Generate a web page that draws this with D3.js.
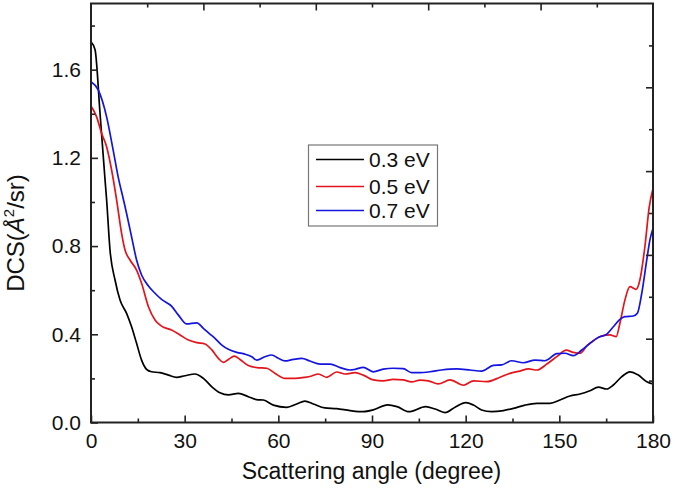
<!DOCTYPE html>
<html>
<head>
<meta charset="utf-8">
<script src="https://cdn.jsdelivr.net/npm/d3@7/dist/d3.min.js"></script>
<style>
  html, body { margin: 0; padding: 0; background: #fff; }
  svg { display: block; font-family: "Liberation Sans", Arial, sans-serif; }
</style>
</head>
<body>
<svg id="chart" width="675" height="497"></svg>
<script>
// ---- data ----
const seriesNames = ["0.3 eV", "0.5 eV", "0.7 eV"];
const seriesColors = ["#000000", "#e3141c", "#1414e0"];

const angles03 = [0, 1.3, 2.9, 4.5, 5.0, 6.1, 7.7, 9.3, 11.4, 13.0, 14.6, 16.2, 17.8, 19.4, 22.1, 24.8, 27.4, 30.1, 33.3, 36.0, 38.7, 41.3, 44.0, 47.2, 50.4, 53.0, 55.2, 58.4, 62.7, 65.9, 68.5, 71.2, 74.9, 78.7, 83.0, 87.2, 90.4, 95.0, 98.0, 101.8, 107.2, 110.2, 113.4, 116.6, 120.0, 122.5, 125.1, 128.3, 132.1, 135.3, 139.0, 142.8, 147.0, 150.2, 153.4, 156.6, 159.8, 162.5, 165.2, 167.3, 170.0, 172.6, 175.3, 178.0, 180];
const dcs03 = [1.726, 1.69, 1.40, 1.10, 1.01, 0.78, 0.646, 0.555, 0.495, 0.434, 0.359, 0.283, 0.241, 0.230, 0.226, 0.215, 0.205, 0.212, 0.220, 0.200, 0.162, 0.135, 0.125, 0.132, 0.117, 0.104, 0.102, 0.079, 0.069, 0.084, 0.097, 0.084, 0.066, 0.063, 0.054, 0.049, 0.057, 0.080, 0.072, 0.049, 0.072, 0.061, 0.045, 0.069, 0.090, 0.079, 0.057, 0.049, 0.054, 0.064, 0.079, 0.087, 0.087, 0.102, 0.120, 0.129, 0.144, 0.160, 0.152, 0.170, 0.208, 0.230, 0.215, 0.185, 0.175];

const angles05 = [0, 1.8, 3.4, 5.0, 6.6, 8.2, 9.8, 10.9, 12.5, 14.6, 16.2, 18.4, 20.5, 22.6, 25.8, 28.5, 31.2, 33.9, 36.5, 38.7, 40.8, 42.4, 44.0, 45.9, 47.7, 50.4, 53.1, 56.3, 58.9, 62.1, 65.3, 68.5, 70.7, 72.8, 75.5, 78.7, 81.4, 84.6, 87.2, 90.4, 93.6, 96.8, 100.0, 102.7, 105.4, 108.0, 111.2, 115.0, 119.3, 122.5, 126.7, 131.0, 134.2, 137.4, 140.1, 142.8, 146.0, 149.5, 152.2, 154.5, 156.6, 158.8, 160.9, 163.6, 166.2, 168.2, 169.4, 171.0, 172.6, 174.6, 175.8, 177.4, 178.8, 180];
const dcs05 = [1.435, 1.386, 1.311, 1.25, 1.145, 1.01, 0.858, 0.782, 0.737, 0.691, 0.631, 0.525, 0.465, 0.437, 0.419, 0.397, 0.374, 0.362, 0.356, 0.329, 0.291, 0.273, 0.286, 0.301, 0.286, 0.258, 0.249, 0.246, 0.223, 0.200, 0.200, 0.205, 0.211, 0.220, 0.205, 0.229, 0.220, 0.226, 0.215, 0.193, 0.189, 0.196, 0.193, 0.184, 0.192, 0.189, 0.175, 0.193, 0.169, 0.189, 0.185, 0.205, 0.223, 0.233, 0.243, 0.238, 0.265, 0.302, 0.328, 0.318, 0.314, 0.347, 0.371, 0.392, 0.397, 0.389, 0.450, 0.555, 0.616, 0.604, 0.646, 0.797, 0.978, 1.06];

const angles07 = [0, 2.35, 5.0, 7.1, 8.7, 10.4, 11.4, 13.0, 14.6, 16.2, 18.4, 20.5, 22.6, 25.8, 28.0, 30.6, 33.9, 36.0, 38.1, 39.7, 41.9, 44.0, 46.7, 49.3, 51.5, 53.1, 55.7, 57.9, 60.0, 62.1, 64.8, 67.5, 70.1, 73.4, 76.6, 79.8, 83.0, 84.6, 87.2, 90.4, 93.6, 96.8, 100.0, 102.7, 105.4, 108.6, 112.3, 117.1, 121.4, 125.1, 128.9, 131.5, 134.7, 138.5, 142.2, 145.4, 149.2, 151.8, 154.5, 157.2, 159.8, 162.5, 165.2, 167.3, 169.4, 171.0, 173.7, 175.0, 176.4, 178.0, 179.0, 180];
const dcs07 = [1.545, 1.507, 1.386, 1.235, 1.114, 1.01, 0.948, 0.842, 0.737, 0.669, 0.619, 0.586, 0.558, 0.528, 0.487, 0.447, 0.452, 0.427, 0.401, 0.382, 0.351, 0.332, 0.318, 0.310, 0.298, 0.283, 0.298, 0.306, 0.291, 0.279, 0.286, 0.291, 0.279, 0.265, 0.265, 0.249, 0.238, 0.241, 0.250, 0.230, 0.242, 0.246, 0.244, 0.226, 0.226, 0.230, 0.238, 0.243, 0.238, 0.233, 0.259, 0.261, 0.280, 0.271, 0.283, 0.280, 0.312, 0.314, 0.303, 0.329, 0.359, 0.386, 0.401, 0.434, 0.468, 0.480, 0.483, 0.495, 0.586, 0.737, 0.827, 0.88];

const xMajorTicks = [0, 30, 60, 90, 120, 150, 180];
const xMinorTicks = [15, 45, 75, 105, 135, 165];
const yMajorTicks = [0, 0.4, 0.8, 1.2, 1.6];
const yMinorTicks = [0.2, 0.6, 1.0, 1.4, 1.8];
const topMajorTicks = [36, 72, 108, 144];
const topMinorTicks = [18, 54, 90, 126, 162];
const rightMajorTicks = [0.38, 0.76, 1.14, 1.52];
const rightMinorTicks = [0.19, 0.57, 0.95, 1.33, 1.71];

const xLabel = "Scattering angle (degree)";

// ---- layout ----
const L = 91, R = 653, T = 3.5, B = 422.5;
const svg = d3.select("#chart");
const x = d3.scaleLinear().domain([0, 180]).range([L, R]);
const y = d3.scaleLinear().domain([0, 1.9]).range([B, T]);

const series = [
  { name: seriesNames[0], color: seriesColors[0], pts: angles03.map((a, i) => [a, dcs03[i]]) },
  { name: seriesNames[1], color: seriesColors[1], pts: angles05.map((a, i) => [a, dcs05[i]]) },
  { name: seriesNames[2], color: seriesColors[2], pts: angles07.map((a, i) => [a, dcs07[i]]) }
];

const line = d3.line().x(d => x(d[0])).y(d => y(d[1])).curve(d3.curveMonotoneX);

svg.append("defs").append("clipPath").attr("id", "clip")
  .append("rect").attr("x", L).attr("y", T).attr("width", R - L).attr("height", B - T);

const plot = svg.append("g").attr("clip-path", "url(#clip)");
series.forEach(s => {
  plot.append("path").datum(s.pts)
    .attr("fill", "none").attr("stroke", s.color).attr("stroke-width", 1.7)
    .attr("stroke-linejoin", "round").attr("d", line);
});

// ---- axes ----
const fs = 21;
function styleAxis(g) {
  g.select(".domain").remove();
  g.selectAll("line").attr("stroke", "#222").attr("stroke-width", 1.6);
  g.selectAll("text").attr("fill", "#111").attr("font-size", fs).attr("font-family", "'Liberation Sans', Arial, sans-serif");
}
svg.append("g").attr("transform", `translate(0,${B})`)
  .call(d3.axisBottom(x).tickValues(xMajorTicks).tickSizeInner(-7).tickSizeOuter(0).tickPadding(11).tickFormat(d3.format("d")))
  .call(styleAxis);
svg.append("g").attr("transform", `translate(0,${B})`)
  .call(d3.axisBottom(x).tickValues(xMinorTicks).tickSizeInner(-4).tickSizeOuter(0).tickFormat(""))
  .call(styleAxis);
svg.append("g").attr("transform", `translate(${L},0)`)
  .call(d3.axisLeft(y).tickValues(yMajorTicks).tickSizeInner(-7).tickSizeOuter(0).tickPadding(10).tickFormat(d3.format(".1f")))
  .call(styleAxis);
svg.append("g").attr("transform", `translate(${L},0)`)
  .call(d3.axisLeft(y).tickValues(yMinorTicks).tickSizeInner(-4).tickSizeOuter(0).tickFormat(""))
  .call(styleAxis);
svg.append("g").attr("transform", `translate(0,${T})`)
  .call(d3.axisTop(x).tickValues(topMajorTicks).tickSizeInner(-7).tickSizeOuter(0).tickFormat(""))
  .call(styleAxis);
svg.append("g").attr("transform", `translate(0,${T})`)
  .call(d3.axisTop(x).tickValues(topMinorTicks).tickSizeInner(-4).tickSizeOuter(0).tickFormat(""))
  .call(styleAxis);
svg.append("g").attr("transform", `translate(${R},0)`)
  .call(d3.axisRight(y).tickValues(rightMajorTicks).tickSizeInner(-7).tickSizeOuter(0).tickFormat(""))
  .call(styleAxis);
svg.append("g").attr("transform", `translate(${R},0)`)
  .call(d3.axisRight(y).tickValues(rightMinorTicks).tickSizeInner(-4).tickSizeOuter(0).tickFormat(""))
  .call(styleAxis);

// frame
svg.append("rect").attr("x", L).attr("y", T).attr("width", R - L).attr("height", B - T)
  .attr("fill", "none").attr("stroke", "#222").attr("stroke-width", 2);

// axis titles
svg.append("text").attr("x", (L + R) / 2 - 0.5).attr("y", 479)
  .attr("text-anchor", "middle").attr("font-size", 23).attr("fill", "#111").text(xLabel);

const yt = svg.append("text").attr("transform", "translate(24,233) rotate(-90)")
  .attr("text-anchor", "middle").attr("font-size", 24).attr("fill", "#111");
yt.append("tspan").text("DCS(");
yt.append("tspan").attr("font-style", "italic").text("Å");
yt.append("tspan").attr("font-size", 15).attr("dy", -10).text("2");
yt.append("tspan").attr("dy", 10).text("/sr)");

// legend
const lg = svg.append("g");
lg.append("rect").attr("x", 308.5).attr("y", 145).attr("width", 129).attr("height", 81)
  .attr("fill", "#fff").attr("stroke", "#777").attr("stroke-width", 1.2);
const rowY = [159.5, 186.5, 210.5];
series.forEach((s, i) => {
  lg.append("line").attr("x1", 316).attr("x2", 364).attr("y1", rowY[i]).attr("y2", rowY[i])
    .attr("stroke", s.color).attr("stroke-width", 1.7);
  lg.append("text").attr("x", 369).attr("y", rowY[i] + 7.5).attr("font-size", 21).attr("fill", "#111").text(s.name);
});
</script>
</body>
</html>
